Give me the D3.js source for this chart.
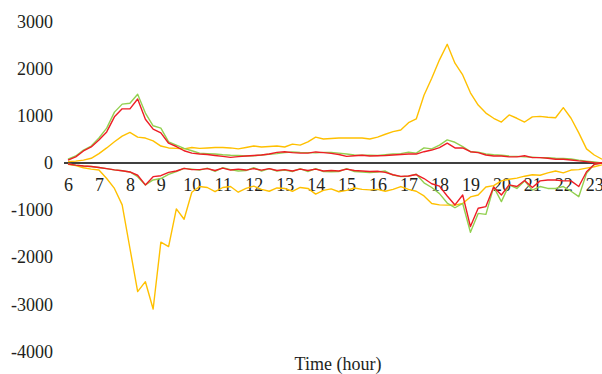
<!DOCTYPE html>
<html>
<head>
<meta charset="utf-8">
<script src="https://cdn.jsdelivr.net/npm/d3@7"></script>
<style>
  body { margin: 0; background: #fff; }
  svg { display: block; }
</style>
</head>
<body>
<svg id="chart"></svg>
<script>
// readings every 15 min, starting 6:00
const startHour = 6;
const step = 0.25;
const hourTicks = d3.range(6, 24);
const valueTicks = [3000, 2000, 1000, 0, -1000, -2000, -3000, -4000];

const posYellow = [30,40,60,100,200,320,450,570,650,550,530,470,360,320,310,300,330,
  310,320,330,330,320,300,330,360,340,350,360,340,400,380,450,550,510,520,530,530,530,530,510,550,610,
  665,700,855,935,1440,1800,2190,2520,2120,1870,1490,1230,1060,950,870,1020,950,870,980,990,970,960,1175,950,640,300,170,80];
const posGreen = [80,150,275,360,530,740,1080,1250,1270,1460,1060,790,740,450,380,310,260,210,
  200,190,175,165,160,150,155,170,185,200,220,235,225,220,215,225,225,210,190,170,165,165,160,175,
  190,200,230,210,320,300,380,490,440,350,240,230,190,175,165,150,140,130,125,115,110,100,95,85,60,40,20,0];
const posRed = [60,130,255,340,490,660,980,1150,1150,1360,930,720,640,420,350,260,210,190,
  180,160,140,120,135,150,160,170,190,225,240,220,210,210,235,220,205,180,140,155,165,150,155,160,
  170,180,190,190,240,275,325,420,320,320,240,220,170,150,150,130,130,155,115,115,100,80,80,65,45,30,5,0];
const negYellow = [-30,-55,-100,-130,-150,-330,-540,-890,-1810,-2730,-2520,-3100,-1680,-1775,-975,-1195,-620,
  -500,-520,-610,-520,-500,-620,-540,-490,-560,-600,-530,-540,-600,-520,-540,-660,-580,-550,-610,-580,-530,-560,-570,-560,-600,
  -560,-500,-560,-600,-700,-860,-890,-895,-895,-860,-720,-680,-510,-480,-380,-345,-320,-280,-250,-260,-210,-170,-210,-150,-140,-110,-80,-40];
const negGreen = [-20,-45,-65,-75,-95,-120,-145,-165,-190,-290,-465,-360,-330,-240,-180,-115,-130,
  -150,-110,-180,-100,-140,-170,-160,-100,-170,-120,-170,-150,-180,-120,-180,-120,-180,-185,-180,-120,-180,-190,-205,-190,-170,
  -255,-290,-280,-240,-420,-520,-650,-850,-950,-860,-1470,-1070,-1090,-510,-820,-465,-540,-380,-575,-500,-540,-540,-500,-600,-715,-220,-30,0];
const negRed = [-20,-45,-65,-75,-95,-120,-145,-165,-190,-260,-465,-290,-270,-200,-170,-115,-140,
  -140,-120,-160,-110,-150,-130,-150,-120,-150,-120,-160,-140,-170,-130,-160,-130,-170,-160,-170,-130,-160,-170,-180,-175,-200,
  -250,-285,-275,-245,-330,-440,-490,-700,-890,-680,-1350,-960,-925,-510,-680,-465,-500,-370,-520,-380,-360,-360,-380,-380,-500,-185,-30,0];

const series = [
  { values: posYellow, color: '#ffc000' },
  { values: negYellow, color: '#ffc000' },
  { values: posGreen, color: '#92d050' },
  { values: negGreen, color: '#92d050' },
  { values: posRed, color: '#ee1d25' },
  { values: negRed, color: '#ee1d25' }
];

const width = 602, height = 374;
const serif = '"Liberation Serif"';

const svg = d3.select('#chart')
    .attr('width', width)
    .attr('height', height);

const x = d3.scaleLinear()
    .domain([startHour, startHour + step * (posYellow.length - 1)])
    .range([68, 602]);

const y = d3.scaleLinear()
    .domain([-4000, 3000])
    .range([351.4, 21.7]);

// y labels only, no axis line
const yAxis = svg.append('g')
    .attr('transform', 'translate(56,0)')
    .call(d3.axisLeft(y).tickValues(valueTicks).tickSize(0).tickPadding(3).tickFormat(d => String(d)));
yAxis.select('.domain').remove();
yAxis.selectAll('text')
    .style('font-family', serif)
    .style('font-size', '18px')
    .attr('fill', '#231f20');

// zero line
svg.append('line')
    .attr('x1', x.range()[0] - 4)
    .attr('x2', x.range()[1])
    .attr('y1', y(0))
    .attr('y2', y(0))
    .attr('stroke', '#000')
    .attr('stroke-width', 1.5);

const xAxis = svg.append('g')
    .attr('transform', `translate(0,${y(0)})`)
    .call(d3.axisBottom(x).tickValues(hourTicks).tickSize(0).tickPadding(15).tickFormat(d3.format('d')));
xAxis.select('.domain').remove();
xAxis.selectAll('text')
    .style('font-family', serif)
    .style('font-size', '18px')
    .attr('fill', '#231f20');

const line = d3.line()
    .x((d, i) => x(startHour + i * step))
    .y(d => y(d));

svg.selectAll('.series')
    .data(series)
    .join('path')
    .attr('class', 'series')
    .attr('d', d => line(d.values))
    .attr('fill', 'none')
    .attr('stroke', d => d.color)
    .attr('stroke-width', 1.4)
    .attr('stroke-linejoin', 'round');

svg.append('text')
    .attr('x', 338)
    .attr('y', 370)
    .attr('text-anchor', 'middle')
    .style('font-family', serif)
    .style('font-size', '18px')
    .attr('fill', '#231f20')
    .text('Time (hour)');
</script>
</body>
</html>
